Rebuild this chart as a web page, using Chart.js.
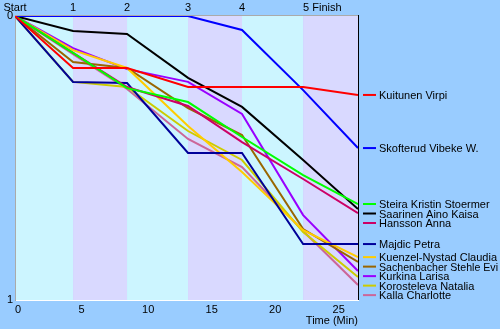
<!DOCTYPE html>
<html><head><meta charset="utf-8">
<script src="https://cdn.jsdelivr.net/npm/chart.js@4.4.1/dist/chart.umd.min.js"></script>
<style>html,body{margin:0;padding:0;background:#99ccff;overflow:hidden}canvas{display:block}</style>
</head><body>
<canvas id="c" width="500" height="329"></canvas>
<script>
// ---- data ----
const checkpointMinutes = [0, 4.57, 8.82, 13.62, 17.87, 22.68, 27];
const checkpointLabels = ['Start', '1', '2', '3', '4', '5 Finish'];
const timeTicks = [0, 5, 10, 15, 20, 25];
const positionTicks = [0, 1];

const kuitunenVirpi      = [0, 0.183, 0.183, 0.250, 0.250, 0.250, 0.278];
const skofterudVibeke    = [0, 0, 0, 0, 0.049, 0.261, 0.465];
const steiraKristin      = [0, 0.130, 0.254, 0.303, 0.426, 0.560, 0.662];
const saarinenAinoKaisa  = [0, 0.053, 0.063, 0.218, 0.320, 0.507, 0.680];
const hanssonAnna        = [0, 0.130, 0.250, 0.317, 0.444, 0.574, 0.694];
const majdicPetra        = [0, 0.232, 0.236, 0.482, 0.482, 0.803, 0.803];
const kuenzelClaudia     = [0, 0.120, 0.183, 0.387, 0.549, 0.754, 0.849];
const sachenbacherEvi    = [0, 0.162, 0.183, 0.324, 0.419, 0.750, 0.866];
const kurkinaLarisa      = [0, 0.113, 0.187, 0.232, 0.345, 0.701, 0.898];
const korostelevaNatalia = [0, 0.232, 0.250, 0.405, 0.507, 0.761, 0.919];
const kallaCharlotte     = [0, 0.134, 0.257, 0.433, 0.532, 0.757, 0.947];

const athleteNames = ['Kuitunen Virpi', 'Skofterud Vibeke W.', 'Steira Kristin Stoermer',
  'Saarinen Aino Kaisa', 'Hansson Anna', 'Majdic Petra', 'Kuenzel-Nystad Claudia',
  'Sachenbacher Stehle Evi', 'Kurkina Larisa', 'Korosteleva Natalia', 'Kalla Charlotte'];
const athleteSeries = [kuitunenVirpi, skofterudVibeke, steiraKristin, saarinenAinoKaisa,
  hanssonAnna, majdicPetra, kuenzelClaudia, sachenbacherEvi, kurkinaLarisa,
  korostelevaNatalia, kallaCharlotte];

// ---- styles ----
const athleteColors = ['#ff0000', '#0000ff', '#00ff00', '#000000', '#cc0066', '#000099',
  '#ffcc00', '#996600', '#9900ff', '#cccc00', '#cc6699'];
const FONT = '"Liberation Sans", Arial, sans-serif';
const bandColors = ['#ccf5ff', '#d9d9ff'];

const decor = {
  id: 'decor',
  beforeDraw(chart) {
    const {ctx, width, height, chartArea: a, scales: {x}} = chart;
    ctx.save();
    ctx.fillStyle = '#99ccff';
    ctx.fillRect(0, 0, width, height);
    for (let i = 0; i < checkpointMinutes.length - 1; i++) {
      const x0 = x.getPixelForValue(checkpointMinutes[i]);
      const x1 = x.getPixelForValue(checkpointMinutes[i + 1]);
      ctx.fillStyle = bandColors[i % 2];
      ctx.fillRect(x0, a.top, x1 - x0, a.bottom - a.top);
    }
    ctx.restore();
  },
  afterDatasetsDraw(chart) {
    const {ctx, width, chartArea: a, scales: {x, y}} = chart;
    ctx.save();
    // borders
    ctx.fillStyle = '#aaaaaa';
    ctx.fillRect(a.left, a.top - 1, a.right - a.left + 1, 1);
    ctx.fillStyle = '#000000';
    ctx.fillRect(a.right, a.top - 1, 1, a.bottom - a.top + 1);
    // top checkpoint labels
    ctx.font = '11px ' + FONT;
    ctx.fillStyle = '#000';
    ctx.textBaseline = 'middle';
    checkpointLabels.forEach((lab, i) => {
      const px = x.getPixelForValue(checkpointMinutes[i]);
      ctx.textAlign = (i === checkpointLabels.length - 1) ? 'left' : 'center';
      ctx.fillText(lab, px, a.top / 2);
    });
    // right-hand labels with spread to avoid overlap
    const items = athleteSeries.map((s, i) => ({i, py: y.getPixelForValue(s[s.length - 1])}))
      .sort((p, q) => p.py - q.py);
    let prev = -1e9;
    const textX = a.right + 21;
    items.forEach(it => {
      const ly = Math.max(it.py, prev + 9.5);
      prev = ly;
      ctx.strokeStyle = athleteColors[it.i];
      ctx.lineWidth = 2;
      ctx.beginPath();
      ctx.moveTo(a.right + 5, ly);
      ctx.lineTo(a.right + 18, ly);
      ctx.stroke();
      ctx.fillStyle = '#000';
      ctx.textAlign = 'left';
      ctx.fillText(athleteNames[it.i], textX, ly + 1, width - textX - 2);
    });
    ctx.restore();
  }
};

new Chart(document.getElementById('c'), {
  type: 'line',
  data: {
    datasets: athleteNames.map((n, i) => ({
      label: n,
      data: athleteSeries[i].map((v, j) => ({x: checkpointMinutes[j], y: v})),
      borderColor: athleteColors[i],
      backgroundColor: athleteColors[i],
      borderWidth: 2,
      pointRadius: 0,
      tension: 0,
      fill: false
    }))
  },
  options: {
    responsive: false,
    animation: false,
    devicePixelRatio: 1,
    layout: {padding: {left: 0, right: 142, top: 16, bottom: 0}},
    plugins: {legend: {display: false}, tooltip: {enabled: false}},
    scales: {
      x: {
        type: 'linear', min: 0, max: 27,
        afterBuildTicks: s => { s.ticks = timeTicks.map(v => ({value: v})); },
        afterFit: s => { s.height = 29; },
        grid: {display: false, drawTicks: false},
        border: {display: true, color: '#ffffff', width: 1},
        ticks: {align: 'start', padding: 3, color: '#000', maxRotation: 0, autoSkip: false,
          font: {family: FONT, size: 11}},
        title: {display: true, text: 'Time (Min)', align: 'end', color: '#000',
          font: {family: FONT, size: 11}, padding: {top: 0, bottom: 1}}
      },
      y: {
        type: 'linear', reverse: true, min: 0, max: 1,
        afterBuildTicks: s => { s.ticks = positionTicks.map(v => ({value: v})); },
        afterFit: s => { s.width = 15; },
        grid: {display: false, drawTicks: false},
        border: {display: true, color: '#aaaaaa', width: 1},
        ticks: {padding: 2, color: '#000', font: {family: FONT, size: 11}}
      }
    }
  },
  plugins: [decor]
});
</script>
</body></html>
